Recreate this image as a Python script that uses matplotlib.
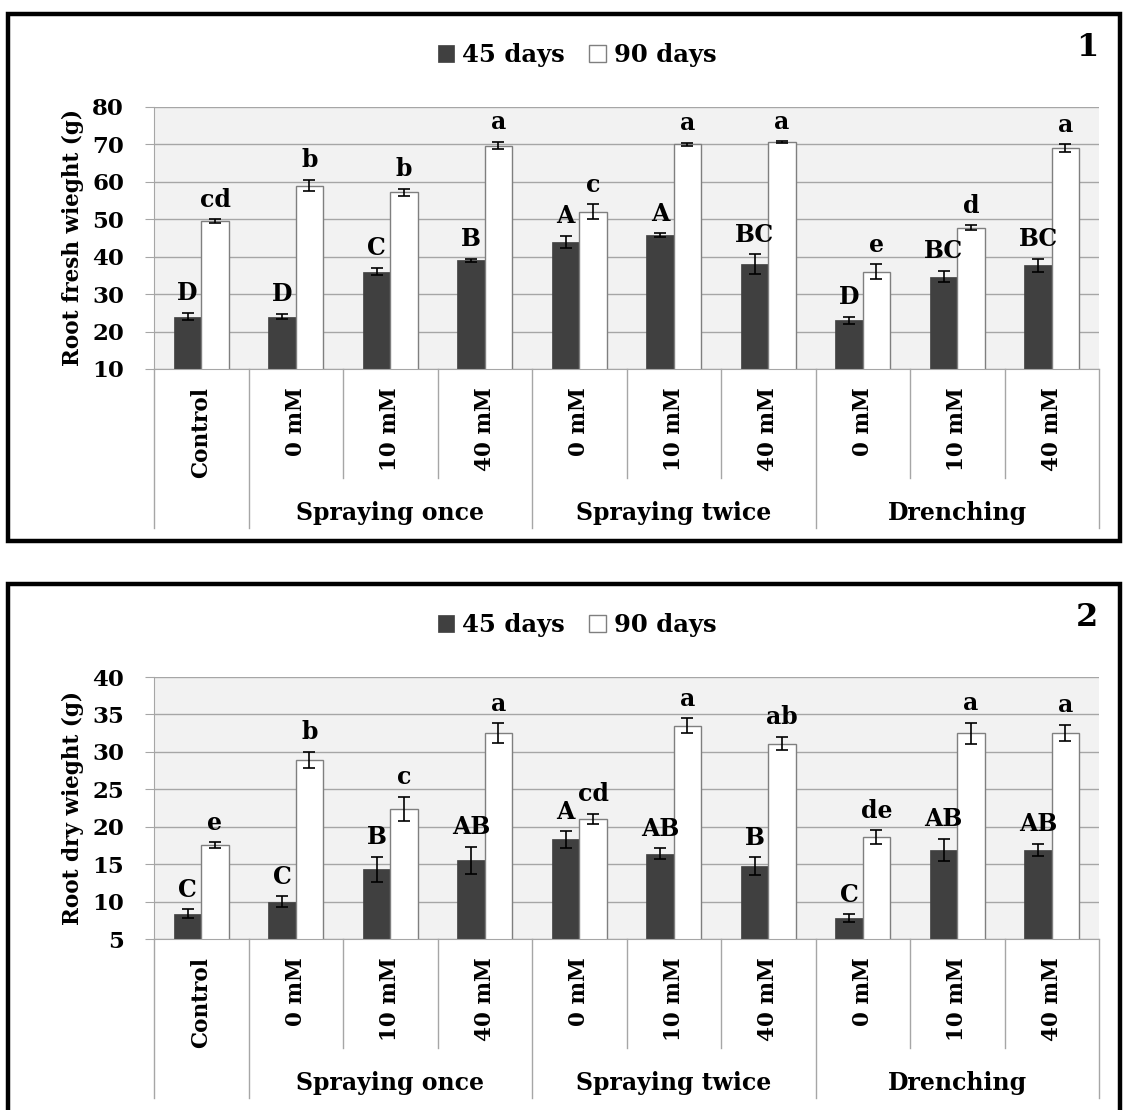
import numpy as np
import matplotlib.pyplot as plt
from matplotlib.patches import Rectangle

plt.rcParams['font.family'] = ['DejaVu Serif']
plt.rcParams['font.weight'] = 'bold'
plt.rcParams['axes.labelweight'] = 'bold'

# x axis: treatments and their groups
treatments = ["Control", "0 mM", "10 mM", "40 mM", "0 mM", "10 mM", "40 mM", "0 mM", "10 mM", "40 mM"]
groups = ["Spraying once", "Spraying twice", "Drenching"]
group_spans = [(1, 3), (4, 6), (7, 9)]
series = ["45 days", "90 days"]

# Panel 1: root fresh weight (g)
fresh_45 = [24.0, 24.0, 36.0, 39.0, 44.0, 45.8, 38.0, 23.0, 34.7, 37.7]
fresh_45_err = [1.0, 0.7, 1.0, 0.4, 1.6, 0.5, 2.6, 1.0, 1.5, 1.8]
fresh_90 = [49.5, 59.0, 57.2, 69.7, 52.0, 70.0, 70.6, 36.0, 47.8, 69.0]
fresh_90_err = [0.5, 1.5, 1.0, 1.0, 2.0, 0.4, 0.3, 2.0, 0.6, 1.0]
fresh_45_letters = ["D", "D", "C", "B", "A", "A", "BC", "D", "BC", "BC"]
fresh_90_letters = ["cd", "b", "b", "a", "c", "a", "a", "e", "d", "a"]

# Panel 2: root dry weight (g)
dry_45 = [8.4, 10.0, 14.3, 15.5, 18.3, 16.4, 14.7, 7.8, 16.9, 16.9]
dry_45_err = [0.55, 0.7, 1.7, 1.8, 1.1, 0.7, 1.2, 0.5, 1.5, 0.8]
dry_90 = [17.5, 28.9, 22.4, 32.5, 21.0, 33.5, 31.1, 18.6, 32.5, 32.5]
dry_90_err = [0.4, 1.1, 1.6, 1.3, 0.7, 1.0, 0.9, 0.9, 1.4, 1.1]
dry_45_letters = ["C", "C", "B", "AB", "A", "AB", "B", "C", "AB", "AB"]
dry_90_letters = ["e", "b", "c", "a", "cd", "a", "ab", "de", "a", "a"]

W, H = 1123, 1110
fig = plt.figure(figsize=(W / 100, H / 100), dpi=100)

DARK = "#404040"
GRID = "#a6a6a6"


def rect(x0, y0, x1, y1):
    return [x0 / W, 1 - y1 / H, (x1 - x0) / W, (y1 - y0) / H]


def draw_panel(off, v45, e45, v90, e90, l45, l90, ylim, step, ylabel, number, frame_h):
    ax = fig.add_axes(rect(154, 107 + off, 1099, 369 + off))
    ax.set_facecolor("#f2f2f2")
    x = np.arange(len(treatments))
    w = 0.29
    b1 = ax.bar(x - w / 2, v45, w, color=DARK, edgecolor=DARK, linewidth=0.5, zorder=2)
    b2 = ax.bar(x + w / 2, v90, w, color="white", edgecolor="#7f7f7f", linewidth=1, zorder=2)
    ax.errorbar(x - w / 2, v45, yerr=e45, fmt="none", ecolor="black",
                elinewidth=1.2, capsize=4.5, capthick=1.2, zorder=3)
    ax.errorbar(x + w / 2, v90, yerr=e90, fmt="none", ecolor="black",
                elinewidth=1.2, capsize=4.5, capthick=1.2, zorder=3)
    for i in range(len(x)):
        ax.annotate(l45[i], (x[i] - w / 2, v45[i] + e45[i]), xytext=(0, 9),
                    textcoords="offset points", ha="center", va="baseline", fontsize=17)
        ax.annotate(l90[i], (x[i] + w / 2, v90[i] + e90[i]), xytext=(0, 9),
                    textcoords="offset points", ha="center", va="baseline", fontsize=17)

    ax.set_xlim(-0.5, len(x) - 0.5)
    ax.set_ylim(*ylim)
    ax.set_yticks(np.arange(ylim[0], ylim[1] + 0.1, step))
    ax.set_xticks([])
    ax.yaxis.grid(True, color=GRID, linewidth=1)
    ax.set_axisbelow(True)
    for s in ["top", "right"]:
        ax.spines[s].set_visible(False)
    for s in ["left", "bottom"]:
        ax.spines[s].set_color(GRID)
    ax.tick_params(axis="y", length=6.5, color=GRID, labelsize=16.5, pad=15)
    ax.set_ylabel(ylabel, fontsize=15.5, labelpad=6)

    # category table under the axis
    tr = ax.get_xaxis_transform()
    for b in np.arange(-0.5, len(x), 1.0):
        long_line = b in (-0.5, 0.5, 3.5, 6.5, 9.5)
        ax.plot([b, b], [0, -0.607 if long_line else -0.416], transform=tr,
                color=GRID, linewidth=1, clip_on=False)
    for i, t in enumerate(treatments):
        ax.text(i, -0.07, t, rotation=90, ha="center", va="top", transform=tr, fontsize=15.5)
    for g, (a, b) in zip(groups, group_spans):
        ax.text((a + b) / 2, -0.55, g, ha="center", va="center", transform=tr, fontsize=17)

    fig.legend([b1, b2], series, loc="center", bbox_to_anchor=(577 / W, 1 - (55 + off) / H),
               ncol=2, frameon=False, fontsize=17.5, handlelength=0.67, handleheight=0.67,
               handletextpad=0.33, columnspacing=1.0)
    fig.text(1087 / W, 1 - (48 + off) / H, number, ha="center", va="center", fontsize=23)
    fig.add_artist(Rectangle((8 / W, 1 - (14 + off + frame_h) / H), 1112 / W, frame_h / H,
                             transform=fig.transFigure, fill=False, edgecolor="black",
                             linewidth=3.2))


draw_panel(0, fresh_45, fresh_45_err, fresh_90, fresh_90_err, fresh_45_letters,
           fresh_90_letters, (10, 80), 10, "Root fresh wieght (g)", "1", 527)
# the second frame runs past the bottom edge of the picture
draw_panel(570, dry_45, dry_45_err, dry_90, dry_90_err, dry_45_letters,
           dry_90_letters, (5, 40), 5, "Root dry wieght (g)", "2", 560)

fig.savefig("out.png", dpi=100)
